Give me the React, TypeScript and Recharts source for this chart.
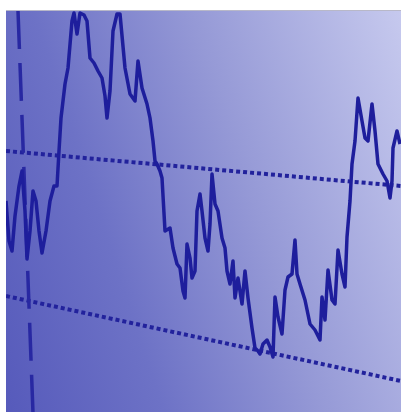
import React from 'react';
import { LineChart, Line, XAxis, YAxis, ReferenceLine } from 'recharts';

const steps = [
  6, 9, 12, 15, 19, 22, 25, 27, 30, 33, 36, 39, 42, 46, 50, 54, 57, 59, 61, 65,
  68, 72, 74, 77, 80, 84, 87, 90, 94, 98, 102, 105, 107, 110, 113, 117, 120, 125, 130, 135,
  138, 142, 147, 150, 153, 155, 157, 160, 162, 165, 170, 173, 177, 180, 183, 185, 187, 190, 192, 195,
  197, 200, 202, 205, 208, 210, 212, 215, 218, 222, 225, 227, 230, 233, 235, 238, 242, 245, 248, 252,
  255, 258, 260, 263, 267, 270, 273, 275, 278, 282, 285, 288, 292, 295, 297, 300, 305, 310, 315, 320,
  322, 325, 328, 332, 335, 338, 342, 345, 347, 350, 352, 355, 358, 362, 365, 368, 372, 375, 378, 383,
  387, 390, 392, 393, 397, 400,
];
const levels = [
  200, 240, 250, 215, 185, 170, 210, 258, 230, 190, 200, 230, 252, 230, 200, 185, 185, 150, 117, 83,
  67, 20, 12, 33, 12, 14, 20, 57, 62, 70, 77, 95, 117, 90, 30, 13, 13, 67, 93, 100,
  60, 87, 103, 117, 140, 160, 163, 170, 177, 230, 227, 247, 263, 267, 290, 297, 243, 257, 277, 270,
  210, 193, 210, 237, 250, 223, 173, 203, 210, 237, 247, 270, 283, 260, 297, 277, 303, 270, 297, 327,
  347, 350, 353, 343, 339, 346, 356, 296, 316, 333, 289, 276, 273, 239, 273, 283, 299, 323, 329, 339,
  296, 319, 269, 299, 303, 249, 273, 286, 236, 200, 163, 140, 97, 120, 137, 140, 103, 130, 163, 173,
  180, 197, 180, 147, 130, 143,
];

// sloping guide lines: [start x, start level, end x, end level]
const upperTrend = [6, 150, 401, 185];
const lowerTrend = [6, 295, 401, 380];
const marker = [18, 10, 33, 412];

const data = steps.map((x, i) => ({ x, level: levels[i] }));

const seg = (s: number[]) => [
  { x: s[0], y: s[1] },
  { x: s[2], y: s[3] },
];

export default function App() {
  return (
    <div
      style={{
        position: 'absolute',
        left: 6,
        top: 10,
        width: 395,
        height: 402,
        borderTop: '1px solid #b8b8c8',
        boxSizing: 'border-box',
        background:
          'linear-gradient(72deg, #565abb 0%, #6d72c6 30%, #9599d6 60%, #c6c9ee 100%)',
      }}
    >
      <LineChart width={395} height={402} data={data} margin={{ top: 0, right: 0, bottom: 0, left: 0 }}>
        <XAxis type="number" dataKey="x" domain={[6, 401]} hide />
        <YAxis type="number" domain={[10, 412]} reversed hide />
        <ReferenceLine segment={seg(upperTrend)} stroke="#22229c" strokeWidth={4} strokeDasharray="4 3" />
        <ReferenceLine segment={seg(lowerTrend)} stroke="#22229c" strokeWidth={4} strokeDasharray="4 3" />
        <ReferenceLine segment={seg(marker)} stroke="#2828a2" strokeWidth={3.5} strokeDasharray="38 14" />
        <Line
          type="linear"
          dataKey="level"
          stroke="#1e1e9c"
          strokeWidth={3.5}
          strokeLinejoin="round"
          dot={false}
          isAnimationActive={false}
        />
      </LineChart>
    </div>
  );
}
